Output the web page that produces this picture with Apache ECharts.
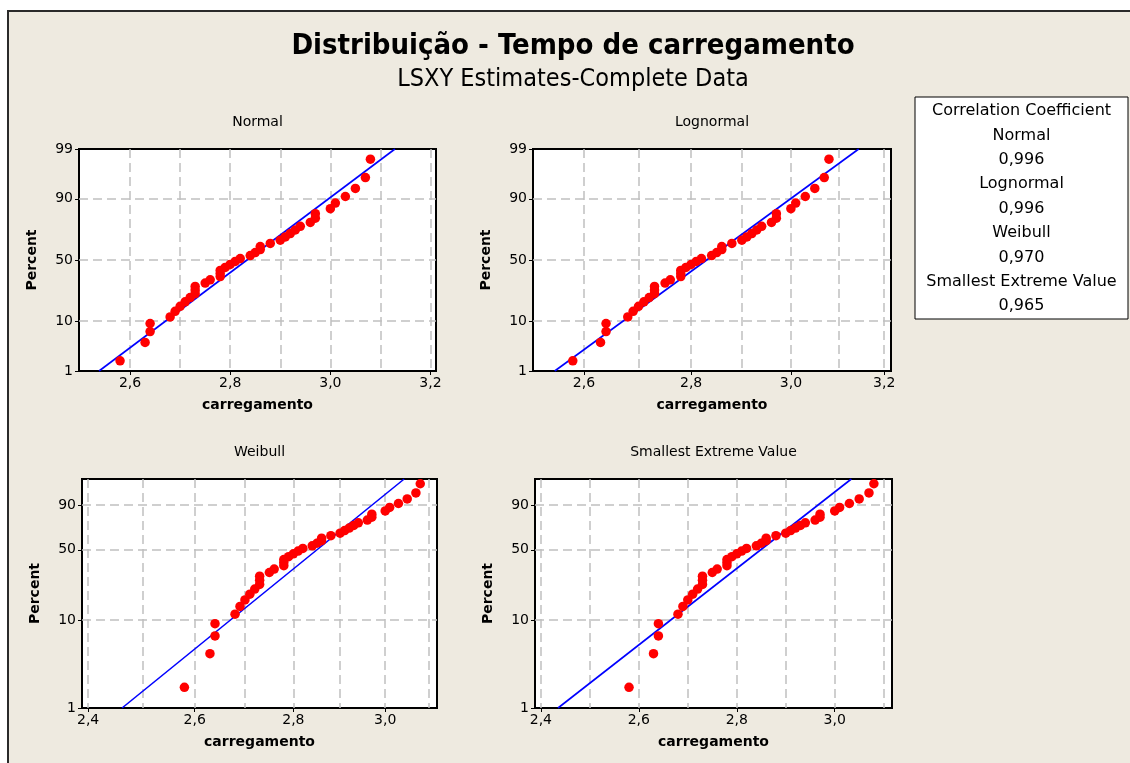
<!DOCTYPE html>
<html><head><meta charset="utf-8">
<script src="https://cdn.jsdelivr.net/npm/echarts@6/dist/echarts.min.js"></script>
<style>html,body{margin:0;padding:0;background:#fff}#c{width:1130px;height:763px}</style>
</head><body><div id="c"></div>
<script>
// ---- data ----
const carregamento = [2.58, 2.63, 2.64, 2.64, 2.68, 2.69, 2.70, 2.71, 2.72, 2.73,
  2.73, 2.73, 2.75, 2.76, 2.78, 2.78, 2.78, 2.79, 2.80, 2.81,
  2.82, 2.84, 2.85, 2.86, 2.86, 2.88, 2.90, 2.91, 2.92, 2.93,
  2.94, 2.96, 2.97, 2.97, 3.00, 3.01, 3.03, 3.05, 3.07, 3.08];
const distributions = ['Normal', 'Lognormal', 'Weibull', 'Smallest Extreme Value'];
const correlationCoefficients = [0.996, 0.996, 0.970, 0.965];
// fitted (LSXY) line: x value at 1 % and at 99 %
const fitAt1Percent = [2.538, 2.548, 2.462, 2.435];
const fitAt99Percent = [3.129, 3.144, 3.043, 3.034];
const percentTicksTop = [1, 10, 50, 90, 99];
const percentTicksBottom = [1, 10, 50, 90];
const percentGridLines = [10, 50, 90];
const xTicksTop = [2.6, 2.8, 3.0, 3.2];
const xTicksBottom = [2.4, 2.6, 2.8, 3.0];
const xGridTop = [2.6, 2.7, 2.8, 2.9, 3.0, 3.1, 3.2];
const xGridBottom = [2.4, 2.5, 2.6, 2.7, 2.8, 2.9, 3.0, 3.1];

// ---- scale transforms ----
function normInv(p) {
  const a = [-3.969683028665376e+01, 2.209460984245205e+02, -2.759285104469687e+02, 1.383577518672690e+02, -3.066479806614716e+01, 2.506628277459239e+00];
  const b = [-5.447609879822406e+01, 1.615858368580409e+02, -1.556989798598866e+02, 6.680131188771972e+01, -1.328068155288572e+01];
  const c = [-7.784894002430293e-03, -3.223964580411365e-01, -2.400758277161838e+00, -2.549732539343734e+00, 4.374664141464968e+00, 2.938163982698783e+00];
  const d = [7.784695709041462e-03, 3.224671290700398e-01, 2.445134137142996e+00, 3.754408661907416e+00];
  const pl = 0.02425, ph = 1 - pl;
  let q, r;
  if (p < pl) { q = Math.sqrt(-2 * Math.log(p)); return (((((c[0]*q+c[1])*q+c[2])*q+c[3])*q+c[4])*q+c[5]) / ((((d[0]*q+d[1])*q+d[2])*q+d[3])*q+1); }
  if (p > ph) { q = Math.sqrt(-2 * Math.log(1 - p)); return -(((((c[0]*q+c[1])*q+c[2])*q+c[3])*q+c[4])*q+c[5]) / ((((d[0]*q+d[1])*q+d[2])*q+d[3])*q+1); }
  q = p - 0.5; r = q * q;
  return (((((a[0]*r+a[1])*r+a[2])*r+a[3])*r+a[4])*r+a[5])*q / (((((b[0]*r+b[1])*r+b[2])*r+b[3])*r+b[4])*r+1);
}
const sevInv = p => Math.log(-Math.log(1 - p));
const tx = { lin: v => v, log: v => Math.log(v) };
const ty = { norm: pc => normInv(pc / 100), sev: pc => sevInv(pc / 100) };

// median-rank plotting positions (Benard)
const n = carregamento.length;
const sorted = carregamento.slice().sort((a, b) => a - b);
const rankPercent = sorted.map((v, i) => 100 * (i + 1 - 0.3) / (n + 0.4));

const FONT = 'DejaVu Sans';
const panels = [
  { xs: 'lin', ys: 'norm', grid: { left: 79, top: 149, width: 357, height: 222 }, xmin: 2.498, xmax: 3.211, xt: xTicksTop, xg: xGridTop, yt: percentTicksTop },
  { xs: 'log', ys: 'norm', grid: { left: 533, top: 149, width: 358, height: 222 }, xmin: 2.510, xmax: 3.215, xt: xTicksTop, xg: xGridTop, yt: percentTicksTop },
  { xs: 'log', ys: 'sev', grid: { left: 82, top: 479, width: 355, height: 229 }, xmin: 2.389, xmax: 3.119, xt: xTicksBottom, xg: xGridBottom, yt: percentTicksBottom },
  { xs: 'lin', ys: 'sev', grid: { left: 535, top: 479, width: 357, height: 229 }, xmin: 2.388, xmax: 3.117, xt: xTicksBottom, xg: xGridBottom, yt: percentTicksBottom }
];

const grids = [], xAxes = [], yAxes = [], series = [], graphics = [];
const dash = { color: '#c0c0c0', width: 1.5, type: [9, 5] };

graphics.push({ type: 'rect', z: -10, shape: { x: 8, y: 11, width: 1140, height: 770 }, style: { fill: '#EEEAE0', stroke: '#2a2a2a', lineWidth: 2 } });
graphics.push({ type: 'text', x: 573, y: 46, style: { text: 'Distribuição - Tempo de carregamento', font: 'bold 29px "DejaVu Sans Condensed", "DejaVu Sans"', fill: '#000', textAlign: 'center', textVerticalAlign: 'middle' } });
graphics.push({ type: 'text', x: 573, y: 79, style: { text: 'LSXY Estimates-Complete Data', font: '25px "DejaVu Sans Condensed", "DejaVu Sans"', fill: '#000', textAlign: 'center', textVerticalAlign: 'middle' } });

panels.forEach((P, k) => {
  const fx = tx[P.xs], fy = ty[P.ys];
  grids.push(Object.assign({ show: true, backgroundColor: '#fff', borderColor: '#000', borderWidth: 2 }, P.grid));
  const xmin = fx(P.xmin), xmax = fx(P.xmax);
  const ymin = fy(1), ymax = fy(99);
  const xtv = P.xt.map(fx), ytv = P.yt.map(fy);
  const nearest = (arr, labels, v) => { let bi = 0; arr.forEach((a, i) => { if (Math.abs(a - v) < Math.abs(arr[bi] - v)) bi = i; }); return labels[bi]; };
  // label x axis
  xAxes.push({ gridIndex: k, type: 'value', position: 'bottom', min: xmin, max: xmax, z: 3,
    axisLine: { show: false, onZero: false },
    axisTick: { show: true, length: 4, customValues: xtv, lineStyle: { color: '#000', width: 1 } },
    axisLabel: { customValues: xtv, margin: 5, color: '#000', fontFamily: FONT, fontSize: 14,
      formatter: v => nearest(xtv, P.xt, v).toFixed(1).replace('.', ',') },
    splitLine: { show: false },
    name: 'carregamento', nameLocation: 'middle', nameGap: 27,
    nameTextStyle: { fontFamily: FONT, fontWeight: 'bold', fontSize: 14, color: '#000' } });
  // grid-line x axis
  xAxes.push({ gridIndex: k, type: 'value', position: 'bottom', min: xmin, max: xmax, z: 1,
    axisLine: { show: false, onZero: false }, axisLabel: { show: false },
    axisTick: { show: false, customValues: P.xg.map(fx) },
    splitLine: { show: true, lineStyle: dash } });
  yAxes.push({ gridIndex: k, type: 'value', position: 'left', min: ymin, max: ymax, z: 3,
    axisLine: { show: false, onZero: false },
    axisTick: { show: true, length: 4, customValues: ytv, lineStyle: { color: '#000', width: 1 } },
    axisLabel: { customValues: ytv, margin: 6, color: '#000', fontFamily: FONT, fontSize: 14,
      formatter: v => String(nearest(ytv, P.yt, v)) },
    splitLine: { show: false },
    name: 'Percent', nameLocation: 'middle', nameGap: 40,
    nameTextStyle: { fontFamily: FONT, fontWeight: 'bold', fontSize: 14, color: '#000' } });
  yAxes.push({ gridIndex: k, type: 'value', position: 'left', min: ymin, max: ymax, z: 1,
    axisLine: { show: false, onZero: false }, axisLabel: { show: false },
    axisTick: { show: false, customValues: percentGridLines.map(fy) },
    splitLine: { show: true, lineStyle: dash } });

  series.push({ type: 'line', xAxisIndex: 2 * k, yAxisIndex: 2 * k, showSymbol: false, symbol: 'none', silent: true, z: 4,
    lineStyle: { color: '#0000ff', width: 1.6 }, clip: true,
    data: [[fx(fitAt1Percent[k]), fy(1)], [fx(fitAt99Percent[k]), fy(99)]] });
  series.push({ type: 'scatter', xAxisIndex: 2 * k, yAxisIndex: 2 * k, symbolSize: 9.5, silent: true, z: 5,
    itemStyle: { color: '#ff0000', opacity: 1 },
    data: sorted.map((v, i) => [fx(v), fy(rankPercent[i])]) });

  graphics.push({ type: 'text', x: P.grid.left + P.grid.width / 2, y: P.grid.top - 27,
    style: { text: distributions[k], font: '14px "DejaVu Sans"', fill: '#000', textAlign: 'center', textVerticalAlign: 'middle' } });
});

// correlation box
const boxLines = ['Correlation Coefficient'];
distributions.forEach((d, i) => { boxLines.push(d); boxLines.push(correlationCoefficients[i].toFixed(3).replace('.', ',')); });
graphics.push({ type: 'rect', shape: { x: 915, y: 97, width: 213, height: 222 }, style: { fill: '#fff', stroke: '#000', lineWidth: 1 } });
boxLines.forEach((t, i) => graphics.push({ type: 'text', x: 1021.5, y: 111 + i * 24.4,
  style: { text: t, font: '16px "DejaVu Sans"', fill: '#000', textAlign: 'center', textVerticalAlign: 'middle' } }));

const chart = echarts.init(document.getElementById('c'), null, { renderer: 'canvas' });
chart.setOption({
  backgroundColor: '#ffffff',
  animation: false,
  grid: grids, xAxis: xAxes, yAxis: yAxes, series: series,
  graphic: { elements: graphics }
});
</script></body></html>
